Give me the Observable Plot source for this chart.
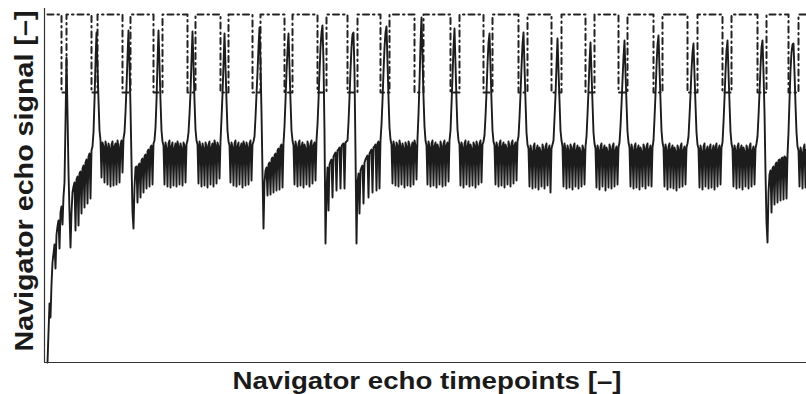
<!DOCTYPE html>
<html>
<head>
<meta charset="utf-8">
<script src="https://cdn.jsdelivr.net/npm/d3@7"></script>
<script src="https://cdn.jsdelivr.net/npm/@observablehq/plot@0.6"></script>
<style>
  html, body { margin: 0; padding: 0; background: #fff; }
  #chart svg { display: block; }
</style>
</head>
<body>
<div id="chart"></div>
<script>
// ---- Data ----
const xLabel = "Navigator echo timepoints [–]";
const yLabel = "Navigator echo signal [–]";
const timeDomain = [0, 762];
const signalDomain = [0, 354];
const firstTimepoint = 3;

// navigator echo signal, one value per timepoint, split at each peak
const echoStart = [0,30,59,45,78,100,109,118,94,128,136,142,114,150,156,138,166,180,240];
const echoCycles = [
  [305,250,190,150,115,150,170,176,180,132,183,186,137,189,191,149,194,197,155,200,203,159,206,209,164,212,216,230,262,300],
  [330,296,262,232,222,185,220,216,180,221,215,178,219,214,176,218,221,177,216,219,178,222,215,180,218,222,190,224,230,250,275,305],
  [332,298,255,200,150,134,175,195,196,160,197,199,165,202,204,170,206,208,174,211,213,176,215,217,178,219,222,235,262,300],
  [332,298,262,232,221,217,178,220,214,176,219,222,175,216,220,177,214,219,176,221,216,178,219,214,177,220,217,180,218,222,230,248,270,302],
  [331,298,262,233,222,218,179,221,215,176,219,214,177,220,216,175,218,221,178,215,219,176,222,217,179,220,216,184,221,244,268,298],
  [329,296,262,232,221,217,180,220,215,177,219,222,176,216,220,178,215,219,175,221,217,177,220,215,178,219,222,182,218,221,226,245,268,290,315],
  [335,300,250,190,134,180,192,195,167,198,200,168,203,205,170,207,209,172,212,214,173,216,218,175,219,236,262,290,312],
  [329,296,262,232,222,217,178,221,215,176,219,222,177,216,220,175,218,214,178,221,216,176,219,222,179,217,220,182,222,238,262,290,315,330],
  [337,300,230,119,170,195,152,198,201,203,165,206,208,210,172,212,213,215,174,216,218,219,174,220,221,222,240,265,292,315,328],
  [330,290,210,119,180,189,149,192,195,197,159,200,203,205,207,165,209,211,213,170,215,216,218,172,219,221,174,222,238,262,290,315,330],
  [336,300,265,235,223,218,179,221,215,177,220,217,176,222,216,178,219,214,175,220,216,177,221,218,176,215,220,178,222,217,183,224,248,280,318],
  [345,305,266,236,222,217,178,221,215,176,219,222,177,216,220,175,218,214,178,221,216,176,219,222,177,217,220,181,222,232,258,286,315],
  [334,298,262,233,222,218,177,220,215,175,219,222,178,216,221,176,218,214,177,220,217,175,221,216,178,219,222,180,218,221,227,246,270,298,320],
  [329,296,262,232,221,217,178,220,215,176,219,222,177,216,220,175,218,214,178,221,216,176,219,222,179,217,220,182,221,226,245,268,295,318],
  [330,296,262,230,218,214,176,217,211,174,216,219,175,212,217,173,215,211,176,218,213,174,216,219,177,213,217,170,214,218,222,244,267,297],
  [324,292,262,232,222,216,176,219,213,174,217,212,175,218,214,173,216,219,176,212,217,174,215,211,176,217,213,178,216,226,248,272,300],
  [320,290,260,230,219,214,175,217,212,173,216,219,176,213,217,172,215,211,175,218,213,174,216,219,176,212,216,178,215,220,236,258,282,305],
  [322,290,260,231,220,215,176,218,212,174,216,219,175,213,217,173,215,211,176,218,214,174,216,219,177,213,217,176,215,222,244,268,296,318],
  [327,294,262,232,220,215,176,218,212,173,216,219,175,213,217,174,215,211,172,217,213,175,216,219,176,212,216,178,215,219,226,246,268,292,310],
  [319,288,258,230,218,214,175,217,211,173,216,219,176,212,216,174,214,218,175,212,217,173,215,219,176,213,217,178,215,220,240,264,290,312],
  [322,290,260,231,219,214,176,217,212,174,216,219,175,213,217,173,215,211,176,217,213,174,216,219,176,212,216,178,214,219,226,246,270,295,315],
  [322,290,250,190,140,120,170,188,192,150,194,196,158,198,200,160,202,203,162,204,205,163,206,205,164,207,230,262,292,310,318],
  [319,290,258,230,216,212,176,215,210,174,214,218,175,213]
];

// acquisition (gating) windows around each peak
const gateOpen  = [17,47,78,109,143,176,208,240,273,303,336,370,406,439,474,507,541,574,609,643,678,713,744];
const gateClose = [22,53,86,118,151,184,216,248,282,313,345,379,415,448,483,517,550,583,618,653,687,722,754];
const gateHigh = 348;
const gateLow = 270;

// ---- Build tables ----
const echoValues = echoStart.concat(...echoCycles);
const echo = echoValues.map((v, i) => ({t: firstTimepoint + i, v}));

const gate = [{t: firstTimepoint, v: gateHigh}];
gateOpen.forEach((o, i) => {
  gate.push({t: o, v: gateHigh}, {t: o, v: gateLow}, {t: gateClose[i], v: gateLow}, {t: gateClose[i], v: gateHigh});
});
gate.push({t: timeDomain[1], v: gateHigh});

const W = 806, H = 394;
const mL = 44, mR = 0, mT = 8, mB = 32;

const chart = Plot.plot({
  width: W,
  height: H,
  marginLeft: mL,
  marginRight: mR,
  marginTop: mT,
  marginBottom: mB,
  x: {domain: timeDomain, axis: null},
  y: {domain: signalDomain, axis: null},
  style: {background: "#fff", overflow: "visible"},
  marks: [
    Plot.line(gate, {x: "t", y: "v", stroke: "#222", strokeWidth: 2, strokeDasharray: "6,4,1.5,4"}),
    Plot.line(echo, {x: "t", y: "v", stroke: "#1c1c1c", strokeWidth: 1.9}),
    Plot.ruleX([0], {y1: signalDomain[0], y2: signalDomain[1], stroke: "#333", strokeWidth: 1.2}),
    Plot.ruleY([0], {stroke: "#333", strokeWidth: 1.2})
  ]
});

const svg = d3.select(chart);
const fontFamily = "'Liberation Sans', Arial, Helvetica, sans-serif";
svg.append("text")
  .attr("x", 427).attr("y", 389)
  .attr("text-anchor", "middle")
  .attr("textLength", 389).attr("lengthAdjust", "spacingAndGlyphs")
  .style("font-family", fontFamily).style("font-weight", "bold").style("font-size", "23px")
  .attr("fill", "#1a1a1a")
  .text(xLabel);
svg.append("text")
  .attr("transform", "translate(33,181) rotate(-90)")
  .attr("x", 0).attr("y", 0)
  .attr("text-anchor", "middle")
  .attr("textLength", 341).attr("lengthAdjust", "spacingAndGlyphs")
  .style("font-family", fontFamily).style("font-weight", "bold").style("font-size", "25px")
  .attr("fill", "#1a1a1a")
  .text(yLabel);

document.getElementById("chart").appendChild(chart);
</script>
</body>
</html>
